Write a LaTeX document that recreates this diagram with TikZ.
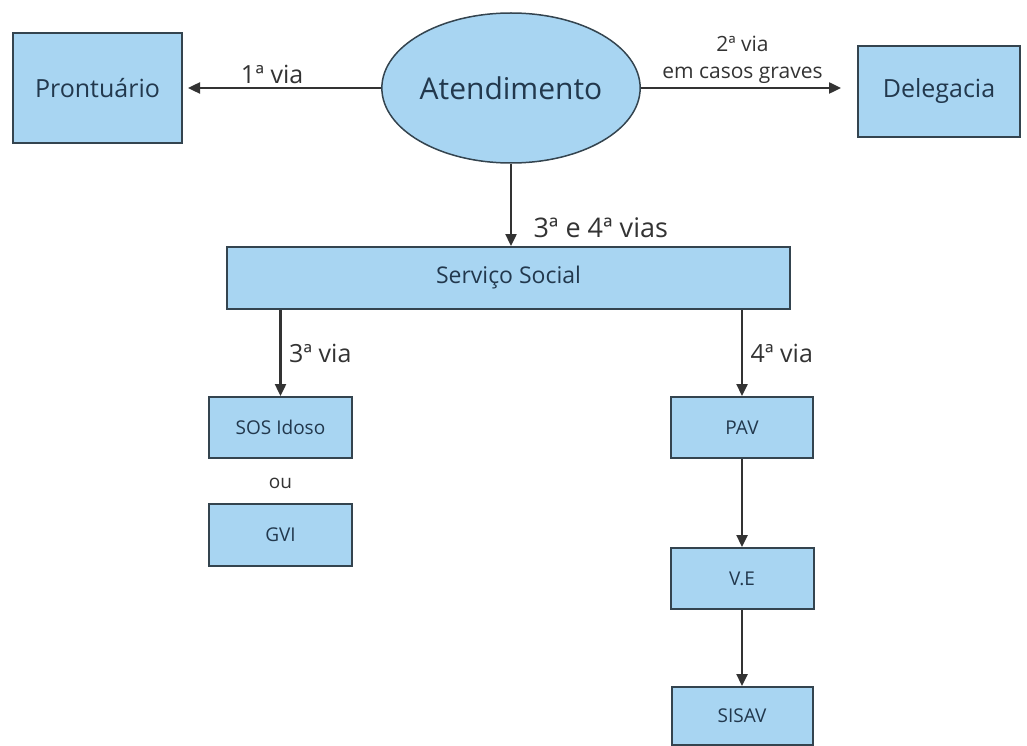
\documentclass[tikz,border=0pt]{standalone}
\usepackage{fontspec}
\setmainfont{Open Sans}
\usetikzlibrary{shapes.geometric,arrows.meta}
\definecolor{boxblue}{HTML}{A8D5F2}
\definecolor{boxline}{HTML}{34444F}
\definecolor{inktext}{HTML}{22384D}
\definecolor{arrowgray}{HTML}{333333}

\begin{document}
\begin{tikzpicture}[x=1pt,y=-1pt,
  box/.style={draw=boxline,fill=boxblue,line width=2pt,text=inktext,inner sep=0pt},
  bigtext/.style={font=\fontsize{25}{30}\selectfont},
  smalltext/.style={font=\fontsize{19}{23}\selectfont},
  via/.style={font=\fontsize{25}{30}\selectfont,text=arrowgray},
  flow/.style={draw=arrowgray,line width=2.4pt,-{Triangle[length=12pt,width=11pt]}}]
\useasboundingbox (0,0) rectangle (1027,746);

% top row
\node[box,bigtext,minimum width=169pt,minimum height=110pt] (prontuario) at (97.5,88) {Prontuário};
\node[box,ellipse,line width=1.5pt,font=\fontsize{30}{36}\selectfont,minimum width=254pt,minimum height=150pt] (atend) at (511,88) {Atendimento};
\node[box,bigtext,minimum width=162pt,minimum height=91pt] (delegacia) at (939,91.5) {Delegacia};

\node[box,font=\fontsize{23}{28}\selectfont,minimum width=563pt,minimum height=62pt] (servico) at (508.5,278) {Serviço Social};

% 3a via
\node[box,smalltext,minimum width=143pt,minimum height=61pt] (sos) at (280.5,427.5) {SOS Idoso};
\node[smalltext,text=arrowgray] (ou) at (280.5,483) {ou};
\node[box,smalltext,minimum width=143pt,minimum height=62pt] (gvi) at (280.5,535) {GVI};

% 4a via
\node[box,smalltext,minimum width=142pt,minimum height=61pt] (pav) at (742,427.5) {PAV};
\node[box,smalltext,minimum width=143pt,minimum height=61pt] (ve) at (742,578.5) {V.E};
\node[box,smalltext,minimum width=141pt,minimum height=58pt] (sisav) at (742,716) {SISAV};

\draw[flow,shorten >=5pt] (atend.west) -- node[via,above,pos=0.55] (via1) {1ª via} (atend.west -| prontuario.east);
\draw[flow,shorten >=16pt] (atend.east) -- node[above,align=center,text=arrowgray,font=\fontsize{21}{27}\selectfont,pos=0.47] (via2) {2ª via\\em casos graves} (atend.east -| delegacia.west);
\draw[flow] (atend.south) -- node[right,pos=0.78,xshift=18pt,text=arrowgray,font=\fontsize{27}{32}\selectfont] (via34) {3ª e 4ª vias} (atend.south |- servico.north);
\draw[flow] (sos.north |- servico.south) -- node[via,right,xshift=4pt] (via3) {3ª via} (sos.north);
\draw[flow] (pav.north |- servico.south) -- node[via,right,xshift=4pt] (via4) {4ª via} (pav.north);
\draw[flow] (pav.south) -- (ve.north);
\draw[flow] (ve.south) -- (sisav.north);
\end{tikzpicture}
\end{document}
